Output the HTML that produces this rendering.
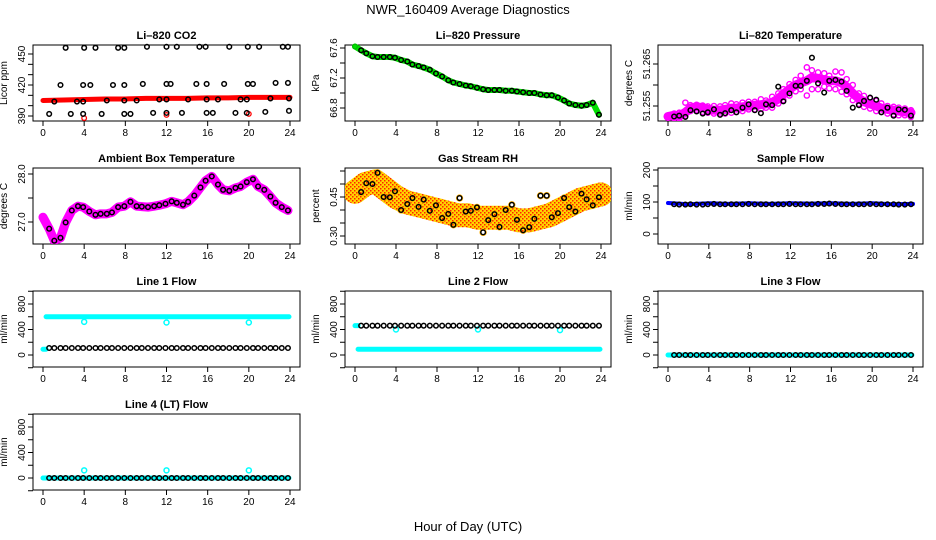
<!DOCTYPE html>
<html><head><meta charset="utf-8"><style>
html,body{margin:0;padding:0;background:#fff}
svg{display:block;font-family:"Liberation Sans",sans-serif}
</style></head><body>
<svg id="chart" width="936" height="540" viewBox="0 0 936 540" xmlns="http://www.w3.org/2000/svg">
<defs>
<pattern id="rhpat" width="4" height="4" patternUnits="userSpaceOnUse">
<rect width="4" height="4" fill="#ffd400"/><rect width="1.5" height="1.5" fill="#ff2000"/><rect x="2" y="2" width="1.5" height="1.5" fill="#ff2000"/>
</pattern>
</defs>
<text x="468" y="14" font-size="13" text-anchor="middle">NWR_160409  Average Diagnostics</text>
<text x="468" y="531" font-size="13" text-anchor="middle">Hour of Day (UTC)</text>
</svg>
<script>
// shared hours of black (average) points
const blackHours=[0.6,1.1,1.7,2.2,2.8,3.4,3.9,4.5,5.1,5.6,6.2,6.7,7.3,7.9,8.5,9.1,9.6,10.2,10.8,11.3,11.9,12.5,13.0,13.6,14.1,14.7,15.3,15.8,16.4,17.0,17.5,18.1,18.7,19.2,19.8,20.4,20.9,21.5,22.1,22.6,23.2,23.8];
const xTicks=[0,4,8,12,16,20,24];
// CO2
const co2TopHours=[2.2,4,5.1,7.3,7.9,10.1,12,13,15.2,15.8,18.1,19.9,21,23.3,23.8];
const co2TopVals=[456,456,456,456,456,457,457,457,457,457,457,457,457,457,457];
const co2MidHours=[1.7,3.9,4.6,6.8,7.9,9.7,12,12.4,14.9,15.9,17.6,19.9,20.4,22.6,23.8];
const co2MidVals=[420,420,420,420,420,421,421,421,421,421,421,421,421,422,422];
const co2LowHours=[1.1,3.3,3.9,6.2,7.9,9.1,11.3,12,14.1,15.9,17,19.2,19.8,22.1,23.9];
const co2LowVals=[404,404,404,405,405,405,406,406,406,406,406,406,406,407,407];
const co2BotHours=[0.6,2.7,3.9,5.7,7.9,8.5,10.7,12,13.5,15.9,16.5,18.7,19.8,21.6,23.9];
const co2BotVals=[392,392,392,392,392,392,393,393,393,393,393,393,393,394,395];
const co2RedHours=[0,2,4,6,8,10,12,14,16,18,20,22,24];
const co2RedVals=[405,405.5,406,406.5,406.5,407,407,407,407.5,407.5,408,408,408];
const co2RedDotHours=[4,12,20];
const co2RedDotVals=[388,391,392];
// Pressure
const presVals=[67.57,67.53,67.49,67.48,67.48,67.48,67.47,67.44,67.42,67.38,67.36,67.34,67.31,67.26,67.22,67.17,67.14,67.12,67.10,67.09,67.07,67.05,67.04,67.04,67.04,67.03,67.03,67.02,67.01,67.00,67.00,66.98,66.97,66.97,66.94,66.90,66.86,66.84,66.83,66.84,66.87,66.71];
// Li-820 temperature
const ltVals=[51.2525,51.2527,51.2524,51.254,51.2537,51.2532,51.2535,51.2542,51.2529,51.2533,51.254,51.2535,51.2546,51.2554,51.254,51.2533,51.2554,51.2552,51.2596,51.2561,51.258,51.2598,51.2598,51.261,51.2665,51.2604,51.2582,51.261,51.2612,51.2608,51.2586,51.2546,51.2552,51.2562,51.257,51.2565,51.2535,51.2546,51.2527,51.2542,51.2541,51.2527];
const ltPinkVals=[51.2528,51.2526,51.2535,51.2545,51.2548,51.2546,51.2542,51.254,51.254,51.2542,51.2545,51.2545,51.2548,51.255,51.2552,51.2553,51.2555,51.2558,51.2567,51.2578,51.259,51.26,51.2605,51.261,51.2618,51.2616,51.2612,51.261,51.261,51.2605,51.2596,51.258,51.2568,51.256,51.2555,51.255,51.2545,51.2542,51.254,51.2538,51.2536,51.2534];
const ltPinkHighVals=[51.2532,51.2534,51.2558,51.2552,51.2553,51.2551,51.2549,51.255,51.2549,51.2552,51.2556,51.2554,51.2558,51.256,51.256,51.2566,51.2563,51.2572,51.258,51.259,51.2602,51.2612,51.2622,51.2642,51.2635,51.263,51.2628,51.2622,51.2632,51.263,51.2614,51.26,51.258,51.2574,51.2568,51.2562,51.2556,51.255,51.2548,51.2546,51.2544,51.254];
const ltPinkLowVals=[51.2521,51.252,51.2526,51.2538,51.254,51.2536,51.2534,51.2532,51.2532,51.2532,51.2534,51.2536,51.2538,51.2542,51.2542,51.2543,51.2546,51.2546,51.2556,51.2564,51.2575,51.2585,51.259,51.2575,51.259,51.259,51.2596,51.2592,51.259,51.2584,51.2578,51.2564,51.2555,51.2548,51.2544,51.2538,51.2536,51.2532,51.253,51.2528,51.2528,51.2524];
// Ambient box temperature
const ambVals=[26.86,26.61,26.67,26.99,27.24,27.33,27.31,27.22,27.15,27.17,27.17,27.2,27.31,27.33,27.42,27.33,27.32,27.31,27.33,27.35,27.38,27.43,27.4,27.36,27.42,27.55,27.72,27.86,27.95,27.78,27.67,27.65,27.71,27.74,27.83,27.89,27.74,27.67,27.53,27.4,27.31,27.24];
// Gas stream RH
const rhVals=[0.469,0.503,0.50,0.543,0.45,0.449,0.472,0.40,0.423,0.446,0.412,0.44,0.397,0.418,0.369,0.385,0.343,0.446,0.394,0.397,0.41,0.314,0.361,0.384,0.335,0.40,0.42,0.362,0.322,0.334,0.366,0.455,0.455,0.372,0.388,0.446,0.411,0.394,0.463,0.441,0.418,0.449];
const rhBandHours=[0,1,2,3,4,5,6,7,8,9,10,11,12,13,14,15,16,17,18,19,20,21,22,23,24];
const rhBandVals=[0.47,0.50,0.51,0.48,0.45,0.43,0.42,0.41,0.40,0.39,0.38,0.38,0.37,0.37,0.37,0.37,0.36,0.36,0.37,0.38,0.40,0.42,0.44,0.45,0.46];
// Flows
const sampleVals=[93,92,92,93,92,92,93,94,93,93,93,93,93,94,93,93,93,93,93,93,94,93,93,93,93,94,94,95,94,93,93,93,93,93,94,93,93,93,93,92,92,93];
const sampleBlueHours=[0,2,4,6,8,10,12,14,16,18,20,22,24];
const sampleBlueVals=[97,93,96,94,96,94,96,95,96,94,96,93,94];
const flowSpecialHours=[4,12,20];
const line1Cyan=600, line1CyanDips=[520,510,510], line1Black=110, line1Start=90;
const line2Cyan=90, line2CyanDips=[400,400,390], line2Black=460, line2Start=460;
const line3Cyan=0, line3Black=0;
const line4Cyan=0, line4CyanBumps=[120,120,120], line4Black=0;

const svg=document.getElementById('chart');
const NS='http://www.w3.org/2000/svg';
function mk(tag,attrs,parent){const e=document.createElementNS(NS,tag);for(const k in attrs)e.setAttribute(k,attrs[k]);(parent||svg).appendChild(e);return e;}
const colX=[[43,290],[355,601],[668,913]];
const rowTop=[45,168,291,414];
function panel(name,col,row,title,ylab,v0,p0,v1,p1,ticks,labels){
  const g=mk('g',{});
  
  
  const x0=colX[col][0],x1=colX[col][1];
  const bl=x0-10,br=x1+10,bt=rowTop[row],bb=bt+76;
  const X=h=>x0+(h/24)*(x1-x0);
  const Y=v=>bt+p0+(v-v0)*(p1-p0)/(v1-v0);
  const box=mk('rect',{x:bl,y:bt,width:br-bl,height:bb-bt,fill:'none',stroke:'#000','stroke-width':1},g);
  
  
  const t=mk('text',{x:(bl+br)/2,y:bt-6,'font-size':11,'font-weight':'bold','text-anchor':'middle'},g);t.textContent=title;
  
  
  const yl=mk('text',{x:bl-26,y:(bt+bb)/2,'font-size':10,'text-anchor':'middle',transform:`rotate(-90 ${bl-26} ${(bt+bb)/2})`},g);yl.textContent=ylab;
  
  
  xTicks.forEach(h=>{mk('line',{x1:X(h),x2:X(h),y1:bb,y2:bb+5,stroke:'#000'},g);
    const tx=mk('text',{x:X(h),y:bb+15,'font-size':10,'text-anchor':'middle'},g);tx.textContent=h;
    
    });
  mk('line',{x1:X(0),x2:X(24),y1:bb,y2:bb,stroke:'#000'},g);
  ticks.forEach((v,i)=>{const y=Y(v);if(y<bt-1||y>bb+1)return;mk('line',{x1:bl-5,x2:bl,y1:y,y2:y,stroke:'#000'},g);
    if(labels[i]){const ty=mk('text',{x:bl-8,y:y,'font-size':10,'text-anchor':'middle',transform:`rotate(-90 ${bl-8} ${y})`},g);ty.textContent=labels[i];
    
    }});
  const clip='c'+name;const cp=mk('clipPath',{id:clip},g);mk('rect',{x:bl,y:bt-6,width:br-bl,height:bb-bt+6},cp);
  const d=mk('g',{'clip-path':`url(#${clip})`},g);
  return {X,Y,g:d,bl,bt,bb};
}
function pts(P,hs,vs,color,r,sw,name){hs.forEach((h,i)=>{const c=mk('circle',{cx:P.X(h),cy:P.Y(vs[i]),r:r,fill:'none',stroke:color,'stroke-width':sw},P.g);
  
  });}
function band(P,hs,vs,color,w,name){const l=mk('polyline',{points:hs.map((h,i)=>P.X(h)+','+P.Y(vs[i])).join(' '),fill:'none',stroke:color,'stroke-width':w,'stroke-linejoin':'round','stroke-linecap':'round'},P.g);
  
  }
function rng(a,b,s){const r=[];for(let v=a;v<=b+1e-9;v+=s)r.push(+v.toFixed(4));return r;}

// CO2
let P=panel('co2',0,0,'Li\u2013820 CO2','Licor ppm',390,71,450,9,rng(390,450,10),['390','','','420','','','450']);
band(P,co2RedHours,co2RedVals,'#ff0000',5,'co2-red-band');
pts(P,co2RedDotHours,co2RedDotVals,'#ff0000',2.3,1.3,'co2-red-point');
[[co2TopHours,co2TopVals],[co2MidHours,co2MidVals],[co2LowHours,co2LowVals],[co2BotHours,co2BotVals]].forEach(s=>pts(P,s[0],s[1],'#000',2.3,1.5,'co2-point'));
// Pressure
P=panel('pressure',1,0,'Li\u2013820 Pressure','kPa',67.6,3,66.8,63,rng(66.8,67.6,0.2),['66.8','','67.2','','67.6']);
band(P,[0].concat(blackHours),[67.62].concat(presVals),'#00e000',6,'pressure-green-band');
pts(P,[0].concat(blackHours),[67.62].concat(presVals),'#00c000',2.3,1.3,'pressure-green-point');
pts(P,blackHours,presVals,'#000',2.3,1.5,'pressure-point');
// Li temperature
P=panel('li-temp',2,0,'Li\u2013820 Temperature','degrees C',51.265,19,51.255,61,[51.255,51.26,51.265],['51.255','','51.265']);
band(P,[0].concat(blackHours),[51.2525].concat(ltPinkVals),'#ff00ff',9,'li-temp-magenta-band');
pts(P,blackHours,ltPinkHighVals,'#ff00ff',2.6,1.4,'li-temp-magenta-point');
pts(P,blackHours,ltPinkLowVals,'#ff00ff',2.6,1.4,'li-temp-magenta-point');
pts(P,blackHours,ltVals,'#000',2.3,1.5,'li-temp-point');
// Ambient
P=panel('ambient-temp',0,1,'Ambient Box Temperature','degrees C',28,6,27,54,[27,27.5,28],['27.0','','28.0']);
band(P,[0].concat(blackHours),[27.1].concat(ambVals),'#ff00ff',9,'ambient-magenta-band');
pts(P,blackHours,ambVals,'#000',2.3,1.5,'ambient-point');
// RH
P=panel('rh',1,1,'Gas Stream RH','percent',0.45,29,0.30,68,rng(0.30,0.55,0.05),['0.30','','','0.45','','']);
band(P,rhBandHours,rhBandVals,'url(#rhpat)',24,'rh-band');
pts(P,blackHours,rhVals,'#ffb000',3,1.3,'rh-orange-point');
pts(P,blackHours,rhVals,'#000',2.3,1.5,'rh-point');
// Sample flow
P=panel('sample-flow',2,1,'Sample Flow','ml/min',200,2,0,66,rng(0,200,50),['0','','100','','200']);
band(P,sampleBlueHours,sampleBlueVals,'#0000ff',4,'sample-blue-band');
pts(P,blackHours,sampleVals,'#000',2.3,1.5,'sample-point');
// Flow panels
const fT=rng(-200,1000,200),fL=['','0','','400','','800',''];
function flowPanel(name,col,row,title,cyanVal,cyanSpecial,startVal,blackVal){
  const Q=panel(name,col,row,title,'ml/min',800,13,0,64,fT,fL);
  band(Q,[0.3,23.9],[cyanVal,cyanVal],'#00ffff',5,name+'-cyan-band');
  band(Q,[0,0.3],[startVal,startVal],'#00ffff',5,name+'-cyan-start-band');
  if(cyanSpecial)pts(Q,flowSpecialHours,cyanSpecial,'#00ffff',2.5,1.5,name+'-cyan-point');
  pts(Q,blackHours,blackHours.map(()=>blackVal),'#000',2.3,1.5,name+'-point');
  return Q;}
flowPanel('line1-flow',0,2,'Line 1 Flow',line1Cyan,line1CyanDips,line1Start,line1Black);
flowPanel('line2-flow',1,2,'Line 2 Flow',line2Cyan,line2CyanDips,line2Start,line2Black);
flowPanel('line3-flow',2,2,'Line 3 Flow',line3Cyan,null,line3Cyan,line3Black);
flowPanel('line4-flow',0,3,'Line 4 (LT) Flow',line4Cyan,line4CyanBumps,line4Cyan,line4Black);
</script>
</body></html>
